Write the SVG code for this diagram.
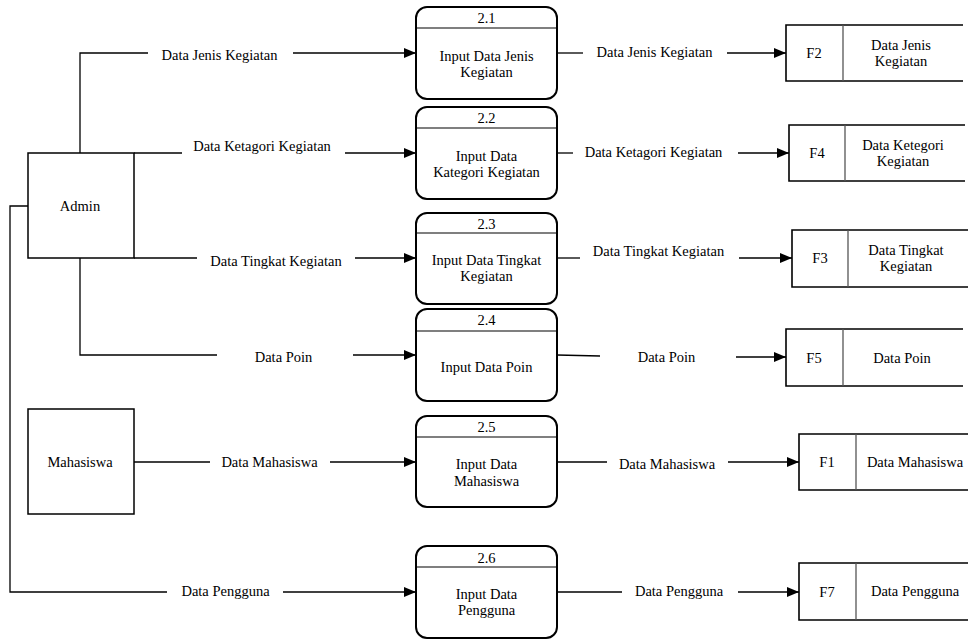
<svg xmlns="http://www.w3.org/2000/svg" width="968" height="639" viewBox="0 0 968 639">
<style>
text{font-family:'Liberation Serif',Tinos,'Times New Roman',Times,'DejaVu Serif',serif;font-size:14.5px;fill:#000;text-anchor:middle}
.ent{fill:#fff;stroke:#000;stroke-width:1.5}
.proc{fill:#fff;stroke:#000;stroke-width:2}
.div{stroke:#000;stroke-width:1.2}
.store{fill:none;stroke:#000;stroke-width:1.6}
.sdiv{stroke:#555;stroke-width:1.3}
.ln{fill:none;stroke:#000;stroke-width:1.3}
.ar{fill:none;stroke:#000;stroke-width:1.3;marker-end:url(#ah)}
</style>
<defs>
<marker id="ah" markerWidth="12" markerHeight="10" refX="12" refY="5" orient="auto" markerUnits="userSpaceOnUse">
<path d="M0,0 L12,5 L0,10 Z" fill="#000"/>
</marker>
</defs>
<rect width="968" height="639" fill="#fff"/>

<g id="connectors" font-family="Liberation Serif, serif">
<polyline class="ln" points="80,153 80,53 148,53"/>
<line class="ar" x1="293" y1="53" x2="416" y2="53"/>
<text x="219.5" y="60">Data Jenis Kegiatan</text>

<line class="ln" x1="134" y1="153" x2="182" y2="153"/>
<line class="ar" x1="345" y1="153" x2="416" y2="153"/>
<text x="262" y="151">Data Ketagori Kegiatan</text>

<line class="ln" x1="134" y1="258" x2="197" y2="258"/>
<line class="ar" x1="355" y1="258" x2="416" y2="258"/>
<text x="276" y="266">Data Tingkat Kegiatan</text>

<polyline class="ln" points="80,258 80,355 217,355"/>
<line class="ar" x1="353" y1="355" x2="416" y2="355"/>
<text x="283.5" y="362">Data Poin</text>

<line class="ln" x1="134" y1="462" x2="210" y2="462"/>
<line class="ar" x1="330" y1="462" x2="416" y2="462"/>
<text x="269.5" y="467">Data Mahasiswa</text>

<polyline class="ln" points="28,206 10,206 10,592 167,592"/>
<line class="ar" x1="283" y1="592" x2="416" y2="592"/>
<text x="225.5" y="596">Data Pengguna</text>

<line class="ln" x1="557" y1="53" x2="583" y2="53"/>
<line class="ar" x1="727" y1="53" x2="786" y2="53"/>
<text x="654.5" y="57">Data Jenis Kegiatan</text>

<line class="ln" x1="557" y1="153" x2="573" y2="153"/>
<line class="ar" x1="738" y1="153" x2="789" y2="153"/>
<text x="653.5" y="157">Data Ketagori Kegiatan</text>

<line class="ln" x1="557" y1="258" x2="580" y2="258"/>
<line class="ar" x1="739" y1="258" x2="792" y2="258"/>
<text x="658.5" y="256">Data Tingkat Kegiatan</text>

<line class="ln" x1="557" y1="355" x2="600" y2="356"/>
<line class="ar" x1="736" y1="357" x2="786" y2="357"/>
<text x="666.5" y="362">Data Poin</text>

<line class="ln" x1="557" y1="462" x2="607" y2="462"/>
<line class="ar" x1="728" y1="462" x2="799" y2="462"/>
<text x="667" y="469">Data Mahasiswa</text>

<line class="ln" x1="557" y1="592" x2="622" y2="592"/>
<line class="ar" x1="738" y1="592" x2="799" y2="592"/>
<text x="679" y="596">Data Pengguna</text>
</g>

<g id="admin">
<rect class="ent" x="28" y="153" width="106" height="105"/>
<text x="80" y="211">Admin</text>
</g>
<g id="mahasiswa">
<rect class="ent" x="28" y="409" width="106" height="105"/>
<text x="80" y="467">Mahasiswa</text>
</g>

<g id="p21">
<rect class="proc" x="416" y="7" width="141" height="92" rx="11"/>
<line class="div" x1="416" y1="28" x2="557" y2="28"/>
<text x="486.5" y="23">2.1</text>
<text x="486.5" y="61">Input Data Jenis</text>
<text x="486.5" y="77">Kegiatan</text>
</g>
<g id="p22">
<rect class="proc" x="416" y="107" width="141" height="92" rx="11"/>
<line class="div" x1="416" y1="128" x2="557" y2="128"/>
<text x="486.5" y="123">2.2</text>
<text x="486.5" y="161">Input Data</text>
<text x="486.5" y="177">Kategori Kegiatan</text>
</g>
<g id="p23">
<rect class="proc" x="416" y="213" width="141" height="91" rx="11"/>
<line class="div" x1="416" y1="233" x2="557" y2="233"/>
<text x="486.5" y="229">2.3</text>
<text x="486.5" y="265">Input Data Tingkat</text>
<text x="486.5" y="281">Kegiatan</text>
</g>
<g id="p24">
<rect class="proc" x="416" y="309" width="141" height="92" rx="11"/>
<line class="div" x1="416" y1="331" x2="557" y2="331"/>
<text x="486.5" y="325">2.4</text>
<text x="486.5" y="372">Input Data Poin</text>
</g>
<g id="p25">
<rect class="proc" x="416" y="416" width="141" height="91" rx="11"/>
<line class="div" x1="416" y1="437" x2="557" y2="437"/>
<text x="486.5" y="432">2.5</text>
<text x="486.5" y="469">Input Data</text>
<text x="486.5" y="486">Mahasiswa</text>
</g>
<g id="p26">
<rect class="proc" x="416" y="546" width="141" height="92" rx="11"/>
<line class="div" x1="416" y1="567" x2="557" y2="567"/>
<text x="486.5" y="563">2.6</text>
<text x="486.5" y="599">Input Data</text>
<text x="486.5" y="615">Pengguna</text>
</g>

<g id="f2">
<path class="store" d="M963,25 H786 V81 H963"/>
<line class="sdiv" x1="843" y1="25" x2="843" y2="81"/>
<text x="814" y="58">F2</text>
<text x="901" y="50">Data Jenis</text>
<text x="901" y="66">Kegiatan</text>
</g>
<g id="f4">
<path class="store" d="M965,125 H789 V181 H965"/>
<line class="sdiv" x1="845" y1="125" x2="845" y2="181"/>
<text x="817" y="158">F4</text>
<text x="903" y="150">Data Ketegori</text>
<text x="903" y="166">Kegiatan</text>
</g>
<g id="f3">
<path class="store" d="M968,230 H792 V287 H968"/>
<line class="sdiv" x1="848" y1="230" x2="848" y2="287"/>
<text x="820" y="263">F3</text>
<text x="906" y="255">Data Tingkat</text>
<text x="906" y="271">Kegiatan</text>
</g>
<g id="f5">
<path class="store" d="M963,329 H786 V386 H963"/>
<line class="sdiv" x1="843" y1="329" x2="843" y2="386"/>
<text x="814" y="363">F5</text>
<text x="902" y="363">Data Poin</text>
</g>
<g id="f1">
<path class="store" d="M968,434 H799 V490 H968"/>
<line class="sdiv" x1="856" y1="434" x2="856" y2="490"/>
<text x="827" y="467">F1</text>
<text x="915" y="467">Data Mahasiswa</text>
</g>
<g id="f7">
<path class="store" d="M968,563 H799 V620 H968"/>
<line class="sdiv" x1="856" y1="563" x2="856" y2="620"/>
<text x="827" y="597">F7</text>
<text x="915" y="596">Data Pengguna</text>
</g>
</svg>
